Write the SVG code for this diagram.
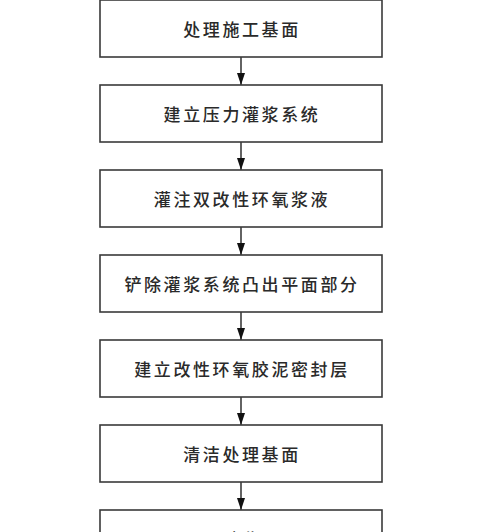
<svg xmlns="http://www.w3.org/2000/svg" width="480" height="532" viewBox="0 0 480 532">
<defs>
<style>
.box{fill:#ffffff;stroke:#3a3a3a;stroke-width:1.6}
.lbl{font-family:"Noto Sans CJK SC","Noto Sans",sans-serif;font-size:17px;font-weight:500;fill:#2a2a2a;text-anchor:middle;dominant-baseline:central;letter-spacing:2.6px}
.conn{stroke:#222;stroke-width:1.4;fill:none;marker-end:url(#ah)}
</style>
<marker id="ah" markerWidth="12" markerHeight="8" refX="12" refY="4" orient="auto" markerUnits="userSpaceOnUse" viewBox="0 0 12 8">
<path d="M0,0 L12,4 L0,8 Z" fill="#111"/>
</marker>
</defs>
<rect width="480" height="532" fill="#ffffff"/>
<g id="connectors">
<line class="conn" x1="241" y1="57" x2="241" y2="85"/>
<line class="conn" x1="241" y1="142" x2="241" y2="170"/>
<line class="conn" x1="241" y1="227" x2="241" y2="255"/>
<line class="conn" x1="241" y1="312" x2="241" y2="340"/>
<line class="conn" x1="241" y1="397" x2="241" y2="425"/>
<line class="conn" x1="241" y1="482" x2="241" y2="510"/>
</g>
<g id="n1"><rect class="box" x="100" y="0" width="282" height="57"/><text class="lbl" x="242" y="28">处理施工基面</text></g>
<g id="n2"><rect class="box" x="100" y="85" width="282" height="57"/><text class="lbl" x="242" y="113">建立压力灌浆系统</text></g>
<g id="n3"><rect class="box" x="100" y="170" width="282" height="57"/><text class="lbl" x="242" y="198">灌注双改性环氧浆液</text></g>
<g id="n4"><rect class="box" x="100" y="255" width="282" height="57"/><text class="lbl" x="242" y="283">铲除灌浆系统凸出平面部分</text></g>
<g id="n5"><rect class="box" x="100" y="340" width="282" height="57"/><text class="lbl" x="242" y="368">建立改性环氧胶泥密封层</text></g>
<g id="n6"><rect class="box" x="100" y="425" width="282" height="57"/><text class="lbl" x="242" y="453">清洁处理基面</text></g>
<g id="n7"><rect class="box" x="100" y="510" width="282" height="57"/><text class="lbl" x="242" y="538">验收</text></g>
</svg>
